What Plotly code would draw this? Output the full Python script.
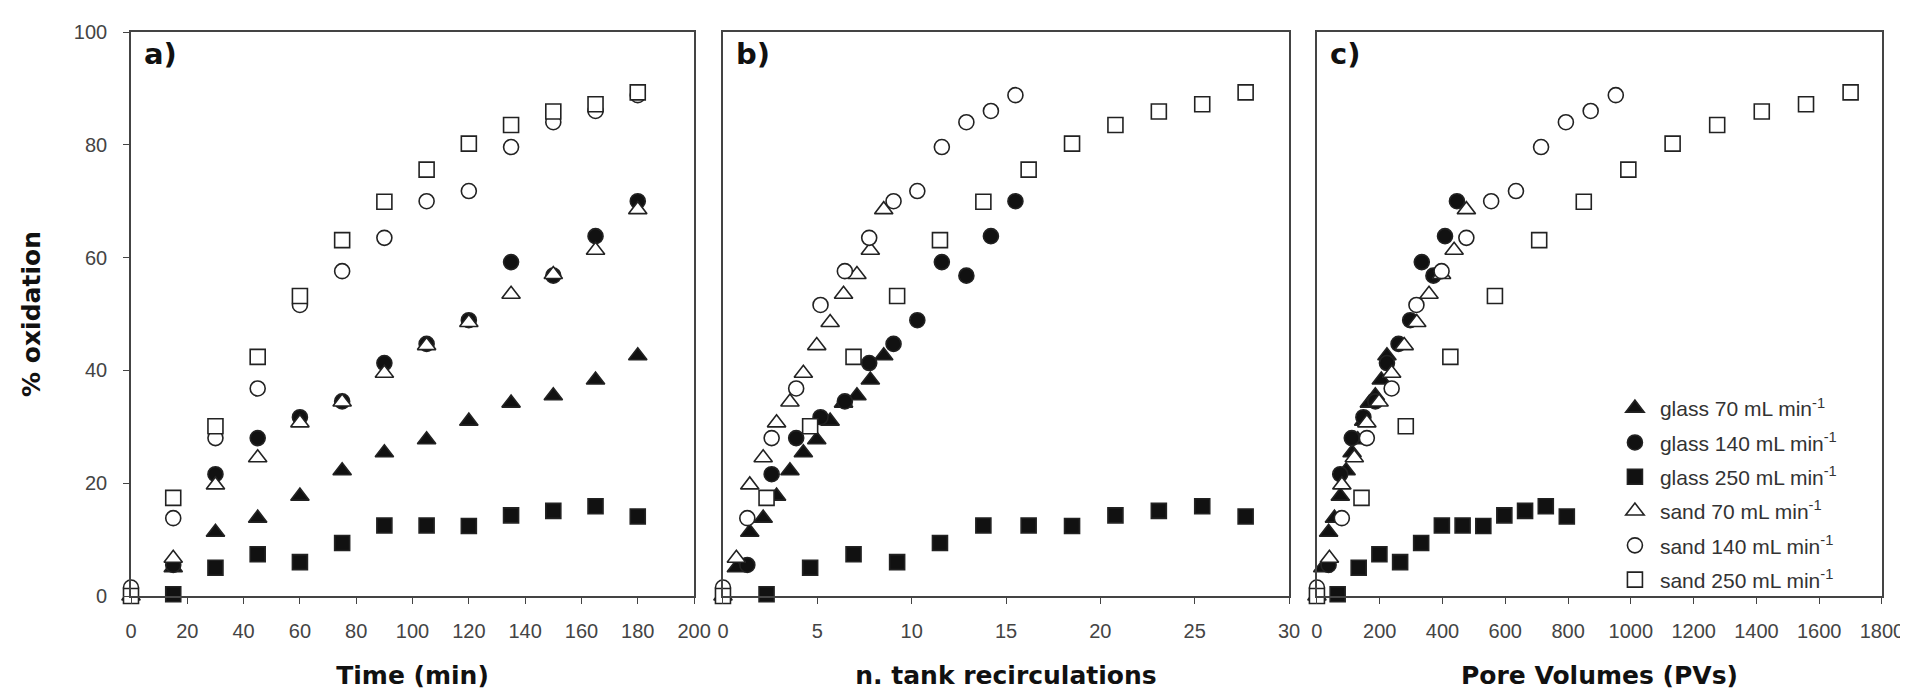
import plotly.graph_objects as go

# ---------------- data ----------------
time_glass = [15, 30, 45, 60, 75, 90, 105, 120, 135, 150, 165, 180]
time_sand = [0, 15, 30, 45, 60, 75, 90, 105, 120, 135, 150, 165, 180]

glass_70 = [5.0, 11.3, 13.8, 17.7, 22.2, 25.4, 27.7, 31.0, 34.2, 35.5, 38.3, 42.6]
glass_140 = [5.5, 21.6, 28.0, 31.7, 34.5, 41.3, 44.7, 48.9, 59.2, 56.8, 63.8, 70.0]
glass_250 = [0.3, 5.0, 7.4, 6.0, 9.4, 12.5, 12.5, 12.4, 14.3, 15.1, 15.9, 14.1]
sand_70 = [0, 6.7, 19.7, 24.5, 30.7, 34.4, 39.5, 44.4, 48.5, 53.5, 57.0, 61.3, 68.5]
sand_140 = [1.5, 13.8, 28.0, 36.8, 51.6, 57.6, 63.5, 70.0, 71.8, 79.6, 84.0, 86.0, 88.8]
sand_250 = [0, 17.4, 30.1, 42.4, 53.2, 63.1, 69.9, 75.6, 80.2, 83.5, 85.9, 87.2, 89.3]

# n. tank recirculations (panel b)
rec_glass_70 = [0.71, 1.42, 2.13, 2.84, 3.55, 4.26, 4.97, 5.68, 6.39, 7.10, 7.81, 8.52]
rec_glass_140 = [1.29, 2.58, 3.88, 5.17, 6.46, 7.75, 9.04, 10.3, 11.6, 12.9, 14.2, 15.5]
rec_glass_250 = [2.31, 4.62, 6.92, 9.23, 11.5, 13.8, 16.2, 18.5, 20.8, 23.1, 25.4, 27.7]
rec_sand_70 = [0, 0.71, 1.42, 2.13, 2.84, 3.55, 4.26, 4.97, 5.68, 6.39, 7.10, 7.81, 8.52]
rec_sand_140 = [0, 1.29, 2.58, 3.88, 5.17, 6.46, 7.75, 9.04, 10.3, 11.6, 12.9, 14.2, 15.5]
rec_sand_250 = [0, 2.31, 4.62, 6.92, 9.23, 11.5, 13.8, 16.2, 18.5, 20.8, 23.1, 25.4, 27.7]

# pore volumes (panel c)
pv_glass_70 = [18.6, 37.2, 55.8, 74.4, 93, 112, 130, 149, 167, 186, 205, 223]
pv_glass_140 = [37.1, 74.2, 111, 148, 186, 223, 260, 297, 334, 371, 408, 446]
pv_glass_250 = [66, 133, 199, 265, 332, 398, 464, 530, 597, 663, 729, 796]
pv_sand_70 = [0, 39.7, 79.4, 119, 159, 198, 238, 278, 318, 357, 397, 437, 476]
pv_sand_140 = [0, 79.3, 159, 238, 317, 397, 476, 555, 634, 714, 793, 872, 952]
pv_sand_250 = [0, 142, 283, 425, 567, 708, 850, 992, 1133, 1275, 1417, 1558, 1700]

series_names = [
    "glass 70 mL min<sup>-1</sup>",
    "glass 140 mL min<sup>-1</sup>",
    "glass 250 mL min<sup>-1</sup>",
    "sand 70 mL min<sup>-1</sup>",
    "sand 140 mL min<sup>-1</sup>",
    "sand 250 mL min<sup>-1</sup>",
]
panel_labels = ["a)", "b)", "c)"]
x_titles = ["Time (min)", "n. tank recirculations", "Pore Volumes (PVs)"]
y_title = "% oxidation"

# ---------------- figure ----------------
series = [
    (series_names[0], time_glass, rec_glass_70, pv_glass_70, glass_70, "triangle-up", True),
    (series_names[1], time_glass, rec_glass_140, pv_glass_140, glass_140, "circle", True),
    (series_names[2], time_glass, rec_glass_250, pv_glass_250, glass_250, "square", True),
    (series_names[3], time_sand, rec_sand_70, pv_sand_70, sand_70, "triangle-up", False),
    (series_names[4], time_sand, rec_sand_140, pv_sand_140, sand_140, "circle", False),
    (series_names[5], time_sand, rec_sand_250, pv_sand_250, sand_250, "square", False),
]

fig = go.Figure()
axes = [("x", "y"), ("x2", "y2"), ("x3", "y3")]
for gi, (name, t, rec, pv, yv, sym, filled) in enumerate(series):
    xs = [t, rec, pv]
    size = 16 if sym == "triangle-up" else 15
    for pi, (xa, ya) in enumerate(axes):
        fig.add_trace(go.Scatter(
            x=xs[pi], y=yv, mode="markers", name=name,
            xaxis=xa, yaxis=ya,
            legendgroup=name, showlegend=(pi == 2),
            cliponaxis=False,
            marker=dict(symbol=sym, size=size,
                        color="#111111" if filled else "white",
                        line=dict(color="#222222", width=1.6)),
        ))

W, H = 1908, 689
ml, mr, mt, mb = 123, 28, 24, 101
pw = W - ml - mr
doms = [(0, (688 - ml) / pw), ((717 - ml) / pw, (1285 - ml) / pw), ((1313 - ml) / pw, 1.0)]
xranges = [[0, 200], [0, 30], [0, 1800]]
xdtick = [20, 5, 200]

tick_font = dict(family="Liberation Sans, Arial, sans-serif", size=20, color="#444444")
title_font = dict(family="DejaVu Sans, sans-serif", size=25, color="#111111", weight="bold")
axis_common = dict(showline=True, linecolor="#444444", linewidth=1.6, mirror=True,
                   showgrid=False, zeroline=False)

layout = dict(
    width=W, height=H,
    margin=dict(l=ml, r=mr, t=mt, b=mb, pad=0),
    paper_bgcolor="white", plot_bgcolor="white",
    showlegend=True,
    legend=dict(x=(1607 - ml) / pw, y=1 - (380 - mt) / (H - mt - mb),
                xanchor="left", yanchor="top",
                font=dict(family="Liberation Sans, Arial, sans-serif", size=21, color="#333333"),
                bgcolor="rgba(0,0,0,0)", borderwidth=0,
                traceorder="grouped", tracegroupgap=4, itemwidth=40),
)
for i in range(3):
    sx = "" if i == 0 else str(i + 1)
    layout["xaxis" + sx] = dict(
        axis_common, domain=list(doms[i]), range=xranges[i], dtick=xdtick[i], tick0=0,
        anchor="y" + sx, ticks="outside", ticklen=6, tickwidth=1.3, tickcolor="#444444",
        tickfont=tick_font, ticklabelstandoff=10,
        title=dict(text=x_titles[i], font=title_font, standoff=26),
    )
    ydict = dict(axis_common, domain=[0, 1], range=[0, 100], anchor="x" + sx)
    if i == 0:
        ydict.update(ticks="outside", ticklen=6, tickwidth=1.3, tickcolor="#444444",
                     dtick=20, tick0=0, tickfont=tick_font, ticklabelstandoff=12,
                     title=dict(text=y_title, font=title_font, standoff=26))
    else:
        ydict.update(showticklabels=False, ticks="")
    layout["yaxis" + sx] = ydict

fig.update_layout(**layout)

for i in range(3):
    sx = "" if i == 0 else str(i + 1)
    fig.add_annotation(
        text=panel_labels[i], xref="x" + sx + " domain", yref="y" + sx + " domain",
        x=0.02, y=0.995, xanchor="left", yanchor="top", showarrow=False,
        font=dict(family="DejaVu Sans, sans-serif", size=29, color="#111111", weight="bold"),
    )

fig.write_html("out.html")
